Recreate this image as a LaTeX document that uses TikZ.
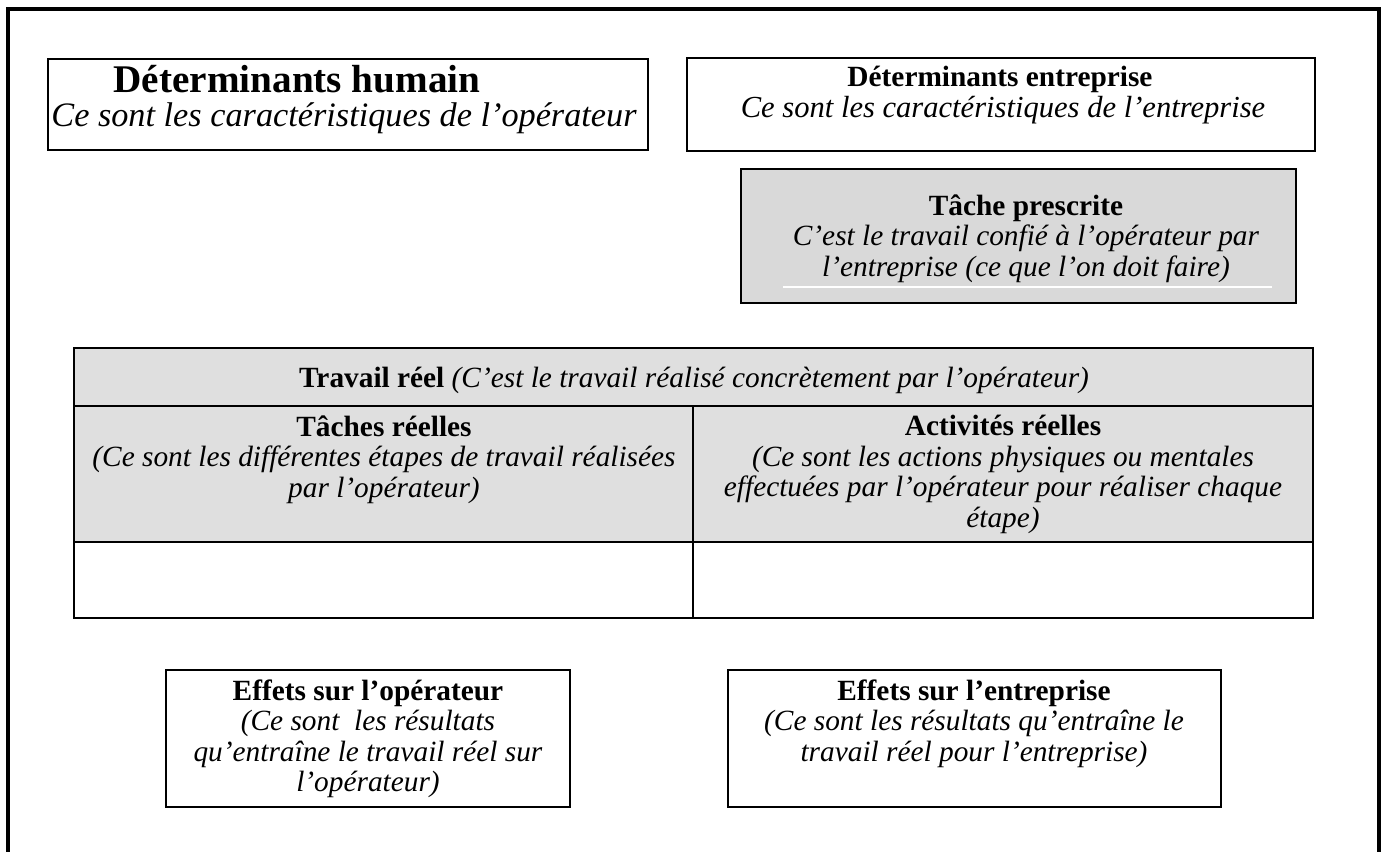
\documentclass[tikz,border=0pt]{standalone}
\usepackage{fontspec}
\setmainfont{Liberation Serif}
\usetikzlibrary{calc}
\definecolor{grisbloc}{gray}{0.85}
\definecolor{gristab}{gray}{0.875}
\tikzset{
  cadre/.style={draw=black, line width=1.1pt},
  tableau/.style={draw=black, line width=1.4pt},
  texte/.style={anchor=north, align=center, inner sep=0pt,
    font=\fontsize{16.7}{17.4}\selectfont},
  ligne/.style={anchor=base, inner sep=0pt},
}
\begin{document}
\begin{tikzpicture}[x=0.02cm,y=-0.02cm]
    \useasboundingbox (0,0) rectangle (1384,852);
    \clip (0,0) rectangle (1384,852);
    % cadre general, ouvert en bas
    \draw [line width=2.3pt] (8,900) -- (8,9) -- (1379,9) -- (1379,900);

    % determinants
    \draw [cadre] (48,59) rectangle (648,150);
    \node [ligne, font=\fontsize{22.3}{24}\selectfont\bfseries] (humain) at (297,92)
      {Déterminants humain};
    \node [ligne, font=\fontsize{19.5}{21}\selectfont\itshape] (humaindef) at (344,126)
      {Ce sont les caractéristiques de l’opérateur};
    \draw [cadre] (687,58) rectangle (1315,151);
    \node [ligne, font=\fontsize{16.7}{18}\selectfont\bfseries] (entreprise) at (1000,86)
      {Déterminants entreprise};
    \node [ligne, font=\fontsize{17.4}{18}\selectfont\itshape] (entreprisedef) at (1003,117)
      {Ce sont les caractéristiques de l’entreprise};

    % tache prescrite
    \draw [cadre, fill=grisbloc] (741,169) rectangle (1296,303);
    \draw [white, line width=0.6pt] (783,287) -- (1272,287);
    \node [texte] (prescrite) at (1026,194) {\textbf{Tâche prescrite}\\
      \textit{C’est le travail confié à l’opérateur par}\\
      \textit{l’entreprise (ce que l’on doit faire)}};

    % travail reel
    \fill [gristab] (74,348) rectangle (1313,542);
    \draw [tableau] (74,348) rectangle (1313,618);
    \draw [tableau] (74,406) -- (1313,406);
    \draw [tableau] (74,542) -- (1313,542);
    \draw [tableau] (693,406) -- (693,618);
    \node [texte] (reel) at (694,367) {\textbf{Travail réel}
      \textit{(C’est le travail réalisé concrètement par l’opérateur)}};
    \node [texte] (taches) at (384,415) {\textbf{Tâches réelles}\\
      \textit{(Ce sont les différentes étapes de travail réalisées}\\
      \textit{par l’opérateur)}};
    \node [texte] (activites) at (1003,415) {\textbf{Activités réelles}\\
      \textit{(Ce sont les actions physiques ou mentales}\\
      \textit{effectuées par l’opérateur pour réaliser chaque}\\
      \textit{étape)}};

    % effets
    \draw [cadre, line width=0.9pt] (166,670) rectangle (570,807);
    \draw [line width=1.6pt] (166,670) -- (570,670) (166,807) -- (570,807);
    \node [texte] (effetop) at (368,679) {\textbf{Effets sur l’opérateur}\\
      \textit{(Ce sont\ \ les résultats}\\
      \textit{qu’entraîne le travail réel sur}\\
      \textit{l’opérateur)}};
    \draw [cadre, line width=0.9pt] (728,670) rectangle (1221,807);
    \draw [line width=1.6pt] (728,670) -- (1221,670) (728,807) -- (1221,807);
    \node [texte] (effetent) at (974,679) {\textbf{Effets sur l’entreprise}\\
      \textit{(Ce sont les résultats qu’entraîne le}\\
      \textit{travail réel pour l’entreprise)}};
  \end{tikzpicture}
\end{document}
